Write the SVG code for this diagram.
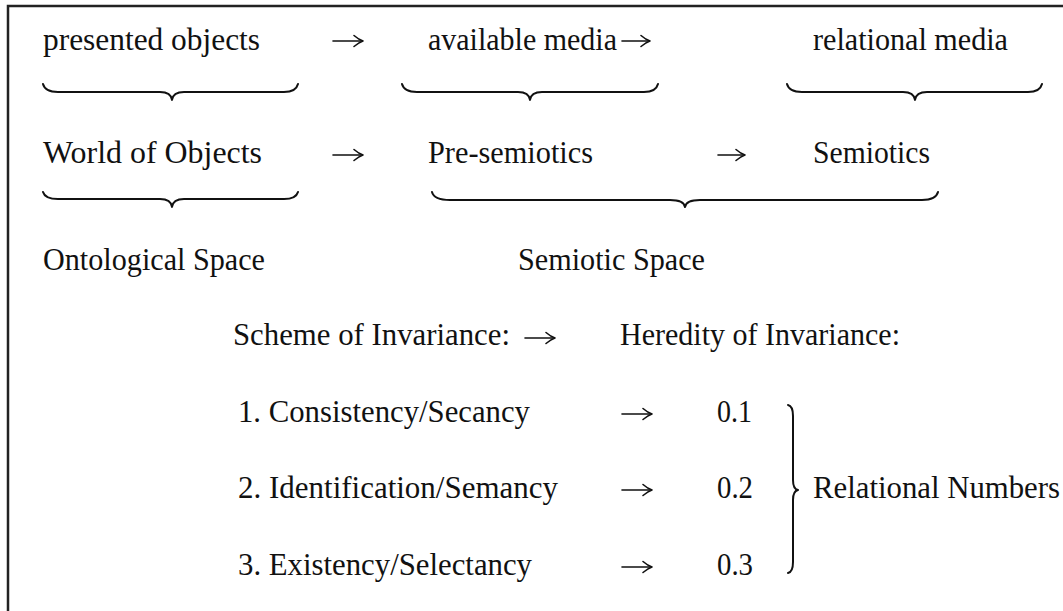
<svg xmlns="http://www.w3.org/2000/svg" width="1063" height="611" viewBox="0 0 1063 611">
<style>
text{font-family:"Liberation Serif","Times New Roman",serif;font-size:31px;fill:#111}
.br{fill:none;stroke:#111;stroke-width:2;stroke-linecap:round;stroke-linejoin:round}
.ar{fill:none;stroke:#111;stroke-width:1.6;stroke-linecap:round;stroke-linejoin:round}
.frame{fill:none;stroke:#222;stroke-width:2.5}
</style>
<defs>
<g id="arrowhead"><path class="ar" d="M-9,-5.5 Q-4,-1.2 0,0 Q-4,1.2 -9,5.5"/></g>
</defs>
<rect class="frame" x="8" y="6" width="1100" height="700"/>
<g id="presented-objects"><text x="43" y="50" textLength="217" lengthAdjust="spacingAndGlyphs">presented objects</text></g>
<g id="available-media"><text x="428" y="50" textLength="189" lengthAdjust="spacingAndGlyphs">available media</text></g>
<g id="relational-media"><text x="813" y="50" textLength="195" lengthAdjust="spacingAndGlyphs">relational media</text></g>
<g id="world-of-objects"><text x="43" y="163" textLength="219" lengthAdjust="spacingAndGlyphs">World of Objects</text></g>
<g id="pre-semiotics"><text x="428" y="163" textLength="165" lengthAdjust="spacingAndGlyphs">Pre-semiotics</text></g>
<g id="semiotics"><text x="813" y="163" textLength="117" lengthAdjust="spacingAndGlyphs">Semiotics</text></g>
<g id="ontological-space"><text x="43" y="270" textLength="222" lengthAdjust="spacingAndGlyphs">Ontological Space</text></g>
<g id="semiotic-space"><text x="518" y="270" textLength="187" lengthAdjust="spacingAndGlyphs">Semiotic Space</text></g>
<g id="scheme"><text x="233" y="345" textLength="277" lengthAdjust="spacingAndGlyphs">Scheme of Invariance:</text></g>
<g id="heredity"><text x="620" y="345" textLength="280" lengthAdjust="spacingAndGlyphs">Heredity of Invariance:</text></g>
<g id="item1"><text x="238" y="422" textLength="292" lengthAdjust="spacingAndGlyphs">1. Consistency/Secancy</text></g>
<g id="item2"><text x="238" y="498" textLength="320" lengthAdjust="spacingAndGlyphs">2. Identification/Semancy</text></g>
<g id="item3"><text x="238" y="575" textLength="294" lengthAdjust="spacingAndGlyphs">3. Existency/Selectancy</text></g>
<g id="num1"><text x="717" y="422" textLength="35" lengthAdjust="spacingAndGlyphs">0.1</text></g>
<g id="num2"><text x="717" y="498" textLength="36" lengthAdjust="spacingAndGlyphs">0.2</text></g>
<g id="num3"><text x="717" y="575" textLength="36" lengthAdjust="spacingAndGlyphs">0.3</text></g>
<g id="relational-numbers"><text x="813" y="498" textLength="247" lengthAdjust="spacingAndGlyphs">Relational Numbers</text></g>
<g id="connectors">
<path class="ar" d="M333,41 H362"/><use href="#arrowhead" x="363" y="41"/>
<path class="ar" d="M622,41 H649"/><use href="#arrowhead" x="650" y="41"/>
<path class="ar" d="M333,155 H362"/><use href="#arrowhead" x="363" y="155"/>
<path class="ar" d="M718,155 H744"/><use href="#arrowhead" x="745" y="155"/>
<path class="ar" d="M525,338 H554"/><use href="#arrowhead" x="555" y="338"/>
<path class="ar" d="M622,414 H651"/><use href="#arrowhead" x="652" y="414"/>
<path class="ar" d="M622,490 H651"/><use href="#arrowhead" x="652" y="490"/>
<path class="ar" d="M622,567 H651"/><use href="#arrowhead" x="652" y="567"/>
<path class="br" d="M43,84 Q45,92 58,92 L160,92 Q171,92 172,100 Q173,92 184,92 L284,92 Q296,92 298,84"/>
<path class="br" d="M402,84 Q404,92 417,92 L518,92 Q529,92 530,100 Q531,92 542,92 L644,92 Q656,92 658,84"/>
<path class="br" d="M787,84 Q789,92 802,92 L903,92 Q914,92 915,100 Q916,92 927,92 L1028,92 Q1040,92 1042,84"/>
<path class="br" d="M43,192 Q45,199 58,199 L160,199 Q171,199 172,207 Q173,199 184,199 L284,199 Q296,199 298,192"/>
<path class="br" d="M432,192 Q434,200 450,200 L670,200 Q684,200 685,207 Q686,200 700,200 L922,200 Q936,200 938,192"/>
<path class="br" d="M788,405 Q793,406 793,416 L793,480 Q793,489 798,490 Q793,491 793,500 L793,562 Q793,572 788,573"/>
</g>
</svg>
